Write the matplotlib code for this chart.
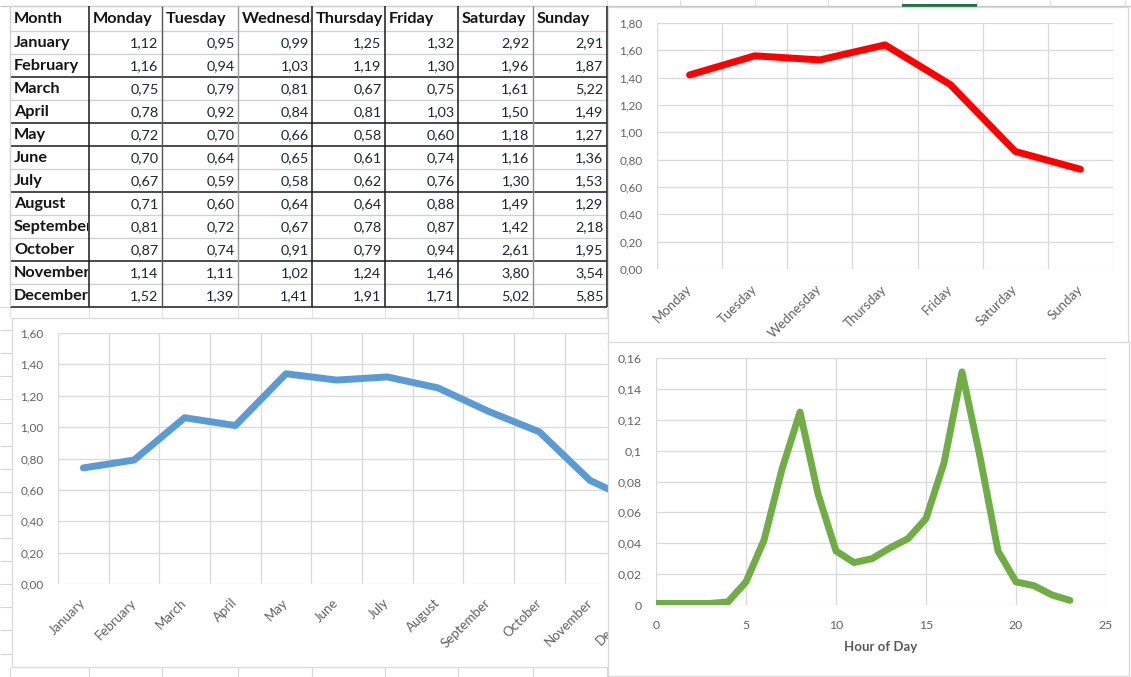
import matplotlib
matplotlib.use("Agg")
import matplotlib.pyplot as plt
import numpy as np
from matplotlib.patches import Rectangle
from matplotlib.transforms import Bbox, TransformedBbox
from matplotlib.ticker import FuncFormatter, FixedLocator

plt.rcParams['font.family'] = ['Lato', 'DejaVu Sans']

W, H = 1131, 677

# ---- data -------------------------------------------------------------
months = ["January", "February", "March", "April", "May", "June", "July",
          "August", "September", "October", "November", "December"]
weekdays = ["Monday", "Tuesday", "Wednesday", "Thursday", "Friday",
            "Saturday", "Sunday"]

monday    = [1.12, 1.16, 0.75, 0.78, 0.72, 0.70, 0.67, 0.71, 0.81, 0.87, 1.14, 1.52]
tuesday   = [0.95, 0.94, 0.79, 0.92, 0.70, 0.64, 0.59, 0.60, 0.72, 0.74, 1.11, 1.39]
wednesday = [0.99, 1.03, 0.81, 0.84, 0.66, 0.65, 0.58, 0.64, 0.67, 0.91, 1.02, 1.41]
thursday  = [1.25, 1.19, 0.67, 0.81, 0.58, 0.61, 0.62, 0.64, 0.78, 0.79, 1.24, 1.91]
friday    = [1.32, 1.30, 0.75, 1.03, 0.60, 0.74, 0.76, 0.88, 0.87, 0.94, 1.46, 1.71]
saturday  = [2.92, 1.96, 1.61, 1.50, 1.18, 1.16, 1.30, 1.49, 1.42, 2.61, 3.80, 5.02]
sunday    = [2.91, 1.87, 5.22, 1.49, 1.27, 1.36, 1.53, 1.29, 2.18, 1.95, 3.54, 5.85]

weekday_profile = [1.42, 1.56, 1.53, 1.64, 1.35, 0.86, 0.73]
month_profile = [0.74, 0.79, 1.06, 1.01, 1.34, 1.30, 1.32, 1.25, 1.10, 0.97,
                 0.66, 0.51]
hours = list(range(24))
hour_profile = [0.001, 0.001, 0.001, 0.001, 0.002, 0.015, 0.042, 0.088,
                0.125, 0.072, 0.035, 0.0275, 0.030, 0.037, 0.043, 0.056,
                0.092, 0.151, 0.096, 0.035, 0.015, 0.0125, 0.0065, 0.003]

table_columns = [monday, tuesday, wednesday, thursday, friday, saturday, sunday]

# ---- styling ------------------------------------------------------------
GRID = "#d9d9d9"
TICK = "#616161"
LIGHT = "#cfcfcf"
DARK = "#1a1a1a"


def px_rect(x0, y0, x1, y1):
    """Figure-fraction rectangle from pixel box (origin top-left)."""
    return [x0 / W, 1 - y1 / H, (x1 - x0) / W, (y1 - y0) / H]


def comma2(v, _pos=None):
    return f"{v:.2f}".replace(".", ",")


def general(v, _pos=None):
    return f"{round(v, 3):g}".replace(".", ",")


fig = plt.figure(figsize=(W / 100, H / 100), dpi=100)
fig.patch.set_facecolor("white")

# ---- spreadsheet layer --------------------------------------------------
sheet = fig.add_axes([0, 0, 1, 1])
sheet.set_xlim(0, W)
sheet.set_ylim(H, 0)
sheet.axis("off")


def seg(x0, y0, x1, y1, color, lw):
    sheet.plot([x0, x1], [y0, y1], color=color, lw=lw,
               solid_capstyle="butt", zorder=2)


col_edges = [10, 89, 162, 238, 312, 385, 458, 533, 607]
row_edges = [6] + [31 + 23 * k for k in range(13)]

# column header strip and its separators
seg(0, 6, W, 6, "#c6c6c6", 0.9)
for x in [607, 680, 755, 828, 902, 977, 1050, 1125]:
    seg(x, 0, x, 6, "#dcdcdc", 0.8)
sheet.add_patch(Rectangle((902, 3.5), 75, 3, color="#217346", lw=0, zorder=3))

# cell grid below the table and to the left of the lower chart
for x in col_edges:
    seg(x, 307, x, 318, "#e2e2e2", 0.8)
    seg(x, 667, x, H, "#d6d6d6", 0.8)
for k in range(0, 16):
    y = 307 + 23.1 * k
    seg(0, y, 12, y, "#d6d6d6", 0.8)

# table borders (weights as they render in the sheet)
h_dark = {3, 5, 6, 8, 11, 13}
for i, y in enumerate(row_edges):
    if i in h_dark:
        seg(col_edges[0], y, col_edges[-1], y, DARK, 1.1)
    else:
        seg(col_edges[0], y, col_edges[-1], y, LIGHT, 0.9)
v_style = {0: (LIGHT, 0.9), 1: (DARK, 1.1), 2: ("#555555", 1.0),
           3: ("#9a9a9a", 1.0), 4: (DARK, 1.1), 5: (DARK, 1.1),
           6: (DARK, 1.1), 7: ("#8a8a8a", 1.0), 8: ("#333333", 1.3)}
for i, x in enumerate(col_edges):
    c, lw = v_style[i]
    seg(x, row_edges[0], x, row_edges[-1], c, lw)


def cell_text(txt, col, row, bold, align):
    x0, x1 = col_edges[col], col_edges[col + 1]
    y0, y1 = row_edges[row], row_edges[row + 1]
    yc = (y0 + y1) / 2 + 0.5
    if align == "left":
        t = sheet.text(x0 + 4, yc, txt, ha="left", va="center",
                       fontsize=11.7, fontweight="bold" if bold else "normal",
                       color="#141414", zorder=4)
    else:
        t = sheet.text(x1 - 3.5, yc, txt, ha="right", va="center",
                       fontsize=10.4, fontweight="bold" if bold else "normal",
                       color="#1c2333", zorder=4)
    # Excel cuts overflowing text at the cell edge
    clip = TransformedBbox(Bbox([[x0 + 1, y0], [x1 - 1, y1]]), sheet.transData)
    t.set_clip_box(clip)
    t.set_clip_on(True)


cell_text("Month", 0, 0, True, "left")
for j, name in enumerate(weekdays):
    cell_text(name, j + 1, 0, True, "left")
for i, m in enumerate(months):
    cell_text(m, 0, i + 1, True, "left")
    for j, col in enumerate(table_columns):
        cell_text(comma2(col[i]), j + 1, i + 1, False, "right")


# ---- chart helpers --------------------------------------------------------
def chart_frame(x0, y0, x1, y1):
    fr = fig.add_axes(px_rect(x0, y0, x1, y1))
    fr.set_facecolor("white")
    fr.set_xticks([])
    fr.set_yticks([])
    for s in fr.spines.values():
        s.set_color(GRID)
        s.set_linewidth(0.9)
    return fr


def category_axes(rect, labels, values, color, ymax, label_pad):
    ax = fig.add_axes(rect)
    ax.set_facecolor("none")
    n = len(labels)
    ax.set_xlim(-0.5, n - 0.5)
    ax.set_ylim(0, ymax)
    ax.set_yticks(np.round(np.arange(0, ymax + 0.001, 0.2), 2))
    ax.yaxis.set_major_formatter(FuncFormatter(comma2))
    ax.set_xticks(range(n))
    ax.set_xticklabels(labels, rotation=45, ha="right", va="center",
                       rotation_mode="anchor", fontsize=9.5)
    ax.xaxis.set_minor_locator(FixedLocator(np.arange(-0.5, n, 1.0)))
    ax.tick_params(which="both", length=0, colors=TICK)
    ax.tick_params(axis="y", pad=10.5, labelsize=8.5)
    ax.tick_params(axis="x", pad=label_pad)
    for s in ax.spines.values():
        s.set_visible(False)
    ax.grid(True, axis="y", which="major", color=GRID, lw=0.9)
    ax.grid(True, axis="x", which="minor", color=GRID, lw=0.9)
    ax.set_axisbelow(True)
    ax.plot(range(n), values, color=color, lw=5.0,
            solid_joinstyle="round", solid_capstyle="round", zorder=3)
    return ax


# ---- monthly chart (lower left) -----------------------------------------
chart_frame(12, 318, 700, 667)
category_axes(px_rect(58, 333, 666, 584), months, month_profile,
              "#5b9bd5", 1.6, 12)

# ---- weekday chart (upper right) ----------------------------------------
chart_frame(608, 7, 1128, 346)
category_axes(px_rect(657, 23, 1113, 269), weekdays, weekday_profile,
              "#ff0000", 1.8, 13)

# ---- hourly chart (lower right) -----------------------------------------
chart_frame(608, 342, 1129, 676)
ax3 = fig.add_axes(px_rect(656, 358, 1106, 605))
ax3.set_facecolor("none")
ax3.set_xlim(0, 25)
ax3.set_ylim(0, 0.16)
ax3.set_xticks(range(0, 26, 5))
ax3.set_yticks(np.round(np.arange(0, 0.1601, 0.02), 2))
ax3.yaxis.set_major_formatter(FuncFormatter(general))
ax3.tick_params(length=0, colors=TICK, labelsize=8.8)
ax3.tick_params(axis="y", pad=10)
ax3.tick_params(axis="x", pad=11)
for s in ax3.spines.values():
    s.set_visible(False)
ax3.grid(True, color=GRID, lw=0.9)
ax3.set_axisbelow(True)
ax3.plot(hours, hour_profile, color="#70ad47", lw=5.0,
         solid_joinstyle="round", solid_capstyle="round", zorder=3)
ax3.set_xlabel("Hour of Day", fontsize=9.5, fontweight="bold",
               color="#595959", labelpad=7)

fig.savefig("out.png", dpi=100)
